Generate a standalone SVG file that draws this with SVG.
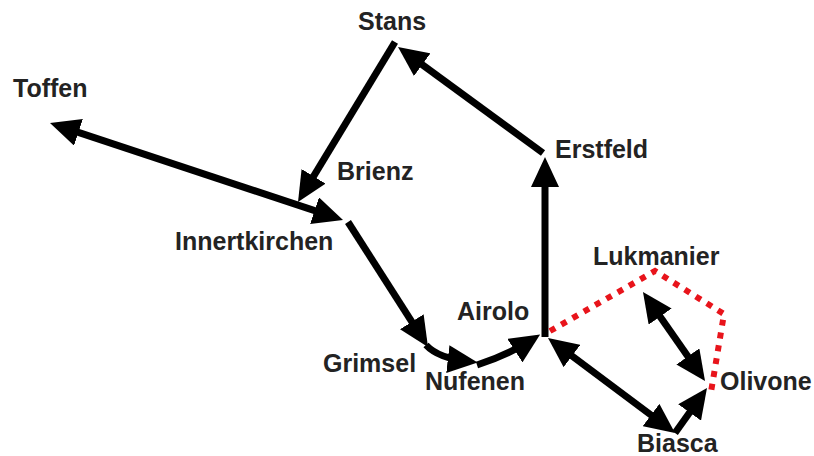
<svg xmlns="http://www.w3.org/2000/svg" width="814" height="456" viewBox="0 0 814 456">
<style>
.lbl{font-family:"Liberation Sans",Arial,sans-serif;font-weight:bold;font-size:25px;fill:#232323}
.c{fill:none;stroke:#000;stroke-width:7}
.red{fill:none;stroke:#e8141b;stroke-width:6;stroke-dasharray:6 7}
</style>
<defs>
<marker id="ah" viewBox="0 0 30 28" refX="20" refY="14" markerWidth="30" markerHeight="28" markerUnits="userSpaceOnUse" orient="auto-start-reverse">
<path d="M0,0 L30,14 L0,28 z" fill="#000"/>
</marker>
</defs>
<rect width="814" height="456" fill="#fff"/>
<g id="connectors">
<line class="c" x1="59.5" y1="126.1" x2="333.5" y2="216.9" marker-start="url(#ah)" marker-end="url(#ah)"/>
<line class="c" x1="395" y1="42" x2="303.2" y2="193.4" marker-end="url(#ah)"/>
<line class="c" x1="543" y1="153" x2="406.1" y2="52.9" marker-end="url(#ah)"/>
<line class="c" x1="545" y1="337" x2="545" y2="167" marker-end="url(#ah)"/>
<line class="c" x1="348" y1="222" x2="422.6" y2="338.6" marker-end="url(#ah)"/>
<path class="c" d="M426,345 Q438,358 467.7,361.4" marker-end="url(#ah)"/>
<path class="c" d="M477,365 Q508,355 531.7,339.8" marker-end="url(#ah)"/>
<line class="c" x1="556" y1="344" x2="667" y2="427" marker-start="url(#ah)" marker-end="url(#ah)"/>
<line class="c" x1="675" y1="433" x2="701.2" y2="396.2" marker-end="url(#ah)"/>
<line class="c" x1="648.7" y1="300.2" x2="699.3" y2="372.8" marker-start="url(#ah)" marker-end="url(#ah)"/>
<polyline class="red" points="550,331 655,271 724,314 711,392"/>
</g>
<g id="Stans"><text class="lbl" x="358" y="30">Stans</text></g>
<g id="Toffen"><text class="lbl" x="13" y="97">Toffen</text></g>
<g id="Brienz"><text class="lbl" x="337" y="180">Brienz</text></g>
<g id="Erstfeld"><text class="lbl" x="555" y="158">Erstfeld</text></g>
<g id="Innertkirchen"><text class="lbl" x="175" y="250">Innertkirchen</text></g>
<g id="Airolo"><text class="lbl" x="457" y="320">Airolo</text></g>
<g id="Grimsel"><text class="lbl" x="323" y="372">Grimsel</text></g>
<g id="Nufenen"><text class="lbl" x="425" y="390">Nufenen</text></g>
<g id="Lukmanier"><text class="lbl" x="593" y="265">Lukmanier</text></g>
<g id="Olivone"><text class="lbl" x="720" y="390">Olivone</text></g>
<g id="Biasca"><text class="lbl" x="637" y="452">Biasca</text></g>
</svg>
